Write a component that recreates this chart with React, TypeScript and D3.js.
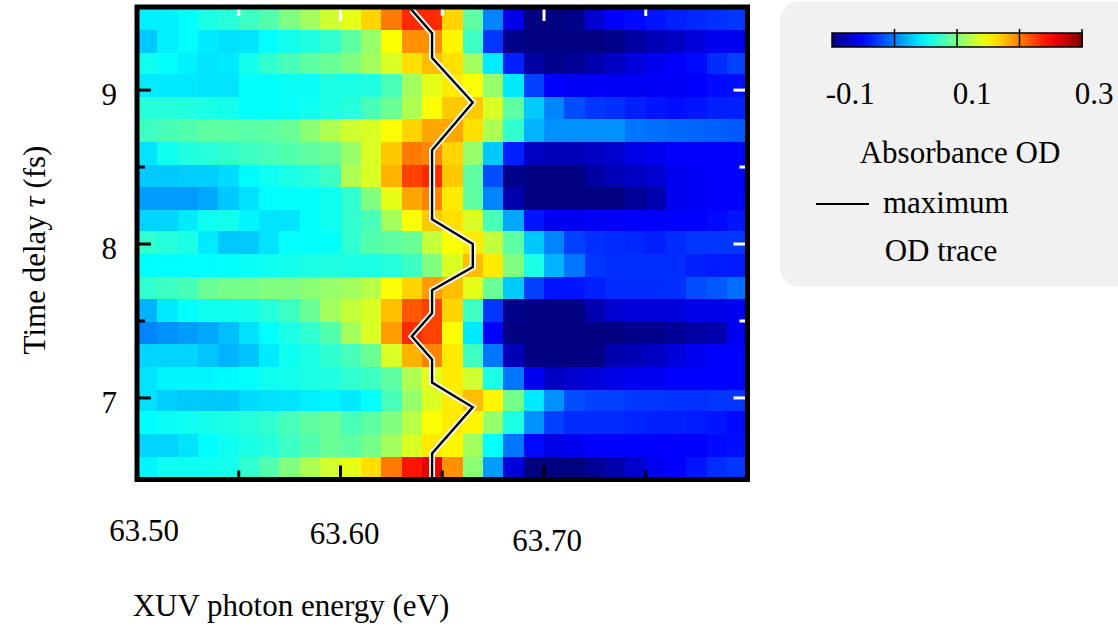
import React, { useRef, useEffect } from "react";
import * as d3 from "d3";

// photon energy bin centres (eV)
const energies = [
  63.505, 63.515, 63.525, 63.535, 63.545, 63.555, 63.565, 63.575, 63.585, 63.595,
  63.605, 63.615, 63.625, 63.635, 63.645, 63.655, 63.665, 63.675, 63.685, 63.695,
  63.705, 63.715, 63.725, 63.735, 63.745, 63.755, 63.765, 63.775, 63.785, 63.795,
];

// time delay row centres (fs), top to bottom
const delays = [
  9.47, 9.32, 9.17, 9.03, 8.88, 8.74, 8.59, 8.44, 8.3, 8.15, 8.01, 7.86, 7.71, 7.57,
  7.42, 7.28, 7.13, 6.98, 6.84, 6.69, 6.54,
];

// absorbance OD, one row per delay
const odRows = [
  [0.012, 0.012, 0.02, 0.03, 0.035, 0.045, 0.055, 0.075, 0.09, 0.11, 0.12, 0.15, 0.19, 0.225, 0.225, 0.15, 0.06, -0.035, -0.105, -0.15, -0.15, -0.145, -0.115, -0.094, -0.09, -0.085, -0.08, -0.077, -0.073, -0.07],
  [-0.005, 0.012, 0.02, 0.01, 0.005, 0.007, 0.02, 0.027, 0.033, 0.04, 0.06, 0.085, 0.13, 0.18, 0.18, 0.135, 0.045, -0.07, -0.145, -0.15, -0.15, -0.15, -0.15, -0.145, -0.135, -0.125, -0.12, -0.11, -0.1, -0.1],
  [0.025, 0.02, 0.013, 0.007, 0.01, 0.027, 0.04, 0.05, 0.06, 0.065, 0.075, 0.09, 0.115, 0.145, 0.16, 0.145, 0.09, 0.01, -0.08, -0.135, -0.145, -0.14, -0.13, -0.12, -0.11, -0.1, -0.095, -0.09, -0.075, -0.065],
  [0.01, 0.01, 0.009, 0.007, 0.007, 0.02, 0.02, 0.022, 0.022, 0.03, 0.03, 0.033, 0.05, 0.09, 0.12, 0.14, 0.13, 0.085, 0.01, -0.065, -0.094, -0.098, -0.098, -0.098, -0.098, -0.096, -0.096, -0.094, -0.09, -0.088],
  [0.035, 0.035, 0.033, 0.03, 0.027, 0.02, 0.02, 0.022, 0.025, 0.03, 0.035, 0.05, 0.065, 0.095, 0.13, 0.155, 0.155, 0.115, 0.06, -0.005, -0.035, -0.06, -0.07, -0.073, -0.08, -0.085, -0.088, -0.085, -0.08, -0.08],
  [0.045, 0.05, 0.055, 0.06, 0.06, 0.058, 0.06, 0.065, 0.08, 0.095, 0.11, 0.115, 0.13, 0.15, 0.17, 0.17, 0.145, 0.095, 0.04, -0.015, -0.03, -0.03, -0.03, -0.03, -0.042, -0.045, -0.048, -0.05, -0.052, -0.055],
  [0.007, 0.025, 0.033, 0.035, 0.04, 0.045, 0.05, 0.055, 0.06, 0.065, 0.085, 0.115, 0.155, 0.19, 0.185, 0.15, 0.085, -0.005, -0.08, -0.12, -0.125, -0.125, -0.12, -0.115, -0.105, -0.1, -0.095, -0.095, -0.095, -0.094],
  [-0.005, -0.005, -0.003, -0.003, 0.003, 0.017, 0.025, 0.03, 0.035, 0.045, 0.095, 0.115, 0.165, 0.215, 0.225, 0.155, 0.06, -0.06, -0.145, -0.15, -0.15, -0.15, -0.135, -0.125, -0.12, -0.115, -0.1, -0.098, -0.095, -0.095],
  [-0.025, -0.025, -0.025, -0.02, -0.005, 0.005, 0.018, 0.02, 0.02, 0.025, 0.04, 0.075, 0.12, 0.17, 0.185, 0.14, 0.06, -0.035, -0.13, -0.15, -0.15, -0.15, -0.15, -0.15, -0.14, -0.13, -0.1, -0.098, -0.095, -0.094],
  [0, 0, 0.01, 0.025, 0.027, 0.015, 0.007, 0.007, 0.02, 0.025, 0.04, 0.05, 0.09, 0.13, 0.155, 0.145, 0.115, 0.05, -0.02, -0.085, -0.1, -0.1, -0.098, -0.096, -0.094, -0.094, -0.094, -0.094, -0.09, -0.085],
  [0.04, 0.035, 0.03, 0.01, -0.005, -0.005, 0.007, 0.02, 0.02, 0.02, 0.04, 0.055, 0.06, 0.065, 0.105, 0.13, 0.14, 0.105, 0.06, -0.005, -0.035, -0.065, -0.073, -0.075, -0.077, -0.08, -0.075, -0.07, -0.07, -0.07],
  [0.018, 0.018, 0.018, 0.018, 0.02, 0.022, 0.025, 0.027, 0.03, 0.033, 0.03, 0.03, 0.035, 0.045, 0.075, 0.115, 0.16, 0.14, 0.075, 0.03, -0.015, -0.042, -0.07, -0.073, -0.073, -0.073, -0.075, -0.08, -0.082, -0.082],
  [0.04, 0.045, 0.05, 0.065, 0.07, 0.07, 0.075, 0.075, 0.08, 0.085, 0.09, 0.1, 0.13, 0.15, 0.175, 0.16, 0.12, 0.065, -0.005, -0.065, -0.085, -0.085, -0.08, -0.075, -0.075, -0.075, -0.073, -0.06, -0.055, -0.045],
  [-0.015, 0.01, 0.02, 0.025, 0.025, 0.027, 0.035, 0.045, 0.065, 0.09, 0.105, 0.115, 0.16, 0.205, 0.215, 0.15, 0.045, -0.07, -0.145, -0.15, -0.15, -0.15, -0.13, -0.115, -0.11, -0.11, -0.11, -0.105, -0.105, -0.1],
  [-0.035, -0.03, -0.025, -0.02, -0.01, 0.005, 0.02, 0.03, 0.04, 0.055, 0.09, 0.115, 0.175, 0.225, 0.215, 0.13, 0.01, -0.094, -0.15, -0.15, -0.15, -0.15, -0.15, -0.15, -0.145, -0.145, -0.14, -0.135, -0.13, -0.1],
  [0, 0, 0, -0.007, -0.015, -0.007, 0.01, 0.025, 0.03, 0.04, 0.05, 0.065, 0.115, 0.165, 0.185, 0.14, 0.045, -0.042, -0.125, -0.15, -0.15, -0.15, -0.15, -0.13, -0.125, -0.12, -0.11, -0.1, -0.094, -0.094],
  [0.007, 0.015, 0.015, 0.015, 0.017, 0.02, 0.025, 0.027, 0.03, 0.033, 0.04, 0.045, 0.06, 0.095, 0.12, 0.14, 0.11, 0.03, -0.042, -0.1, -0.12, -0.115, -0.11, -0.105, -0.1, -0.098, -0.094, -0.094, -0.094, -0.094],
  [0.005, -0.003, -0.005, -0.005, -0.005, 0.003, 0.005, 0.007, 0.012, 0.015, 0.01, 0.02, 0.05, 0.085, 0.115, 0.14, 0.16, 0.135, 0.07, 0.01, -0.03, -0.06, -0.065, -0.065, -0.07, -0.07, -0.072, -0.072, -0.07, -0.07],
  [0.018, 0.022, 0.025, 0.028, 0.03, 0.035, 0.04, 0.05, 0.06, 0.065, 0.05, 0.06, 0.075, 0.1, 0.13, 0.14, 0.135, 0.085, 0.03, -0.03, -0.065, -0.075, -0.075, -0.075, -0.078, -0.08, -0.08, -0.082, -0.085, -0.09],
  [0, 0, 0.007, 0.018, 0.025, 0.03, 0.035, 0.045, 0.055, 0.065, 0.06, 0.07, 0.09, 0.115, 0.14, 0.135, 0.09, 0.02, -0.042, -0.09, -0.105, -0.1, -0.094, -0.094, -0.094, -0.094, -0.094, -0.094, -0.09, -0.088],
  [0.015, 0.025, 0.025, 0.025, 0.027, 0.04, 0.055, 0.075, 0.095, 0.11, 0.12, 0.145, 0.19, 0.235, 0.255, 0.18, 0.08, -0.025, -0.11, -0.15, -0.15, -0.15, -0.14, -0.13, -0.115, -0.1, -0.094, -0.085, -0.075, -0.07],
];

// maximum OD trace
const traceDelay = [9.52, 9.37, 9.21, 8.92, 8.61, 8.16, 8.0, 7.85, 7.7, 7.55, 7.4, 7.25, 7.1, 6.94, 6.64, 6.47];
const traceEnergy = [63.635, 63.645, 63.645, 63.665, 63.645, 63.645, 63.665, 63.665, 63.645, 63.645, 63.635, 63.645, 63.645, 63.665, 63.645, 63.645];

const xMajor = [63.5, 63.6, 63.7];
const xMinor = [63.55, 63.65, 63.75];
const yMajor = [7, 8, 9];
const yMinor = [7.5, 8.5];
const cbarTicks = [-0.1, 0.1, 0.3];

const FONT = "'Liberation Serif', 'Times New Roman', serif";

const App = () => {
  const ref = useRef<SVGSVGElement>(null);

  useEffect(() => {
    const svg = d3.select(ref.current);
    svg.selectAll("*").remove();

    const left = 137, right = 747.5, top = 7, bottom = 479.5;
    const x = d3.scaleLinear().domain([63.5, 63.8]).range([left, right]);
    const y = d3.scaleLinear().domain([6.47, 9.54]).range([bottom, top]);

    const toT = d3.scaleLinear().domain([-0.15, 0.3]).range([0, 1]).clamp(true);
    const jet = d3
      .scaleLinear<string>()
      .domain([0, 0.125, 0.375, 0.625, 0.875, 1])
      .range(["#000080", "#0000ff", "#00ffff", "#ffff00", "#ff0000", "#800000"]);
    const color = (v: number) => jet(toT(v));

    const binW = 0.005;
    const binH = 0.073;

    svg
      .append("defs")
      .append("clipPath")
      .attr("id", "plot-clip")
      .append("rect")
      .attr("x", left)
      .attr("y", top)
      .attr("width", right - left)
      .attr("height", bottom - top);

    const cells = svg.append("g").attr("clip-path", "url(#plot-clip)");
    const flat: { e: number; d: number; v: number }[] = [];
    odRows.forEach((row, i) =>
      row.forEach((v, j) => flat.push({ e: energies[j], d: delays[i], v }))
    );
    cells
      .selectAll("rect")
      .data(flat)
      .enter()
      .append("rect")
      .attr("x", (c) => x(c.e - binW))
      .attr("y", (c) => y(c.d + binH))
      .attr("width", (c) => x(c.e + binW) - x(c.e - binW) + 0.6)
      .attr("height", (c) => y(c.d - binH) - y(c.d + binH) + 0.6)
      .attr("fill", (c) => color(c.v))
      .attr("shape-rendering", "crispEdges");

    // max OD trace, white halo under black line
    const line = d3
      .line<number>()
      .x((i) => x(traceEnergy[i]))
      .y((i) => y(traceDelay[i]));
    const idx = traceDelay.map((_, i) => i);
    cells
      .append("path")
      .attr("d", line(idx))
      .attr("fill", "none")
      .attr("stroke", "#fff")
      .attr("stroke-width", 6);
    cells
      .append("path")
      .attr("d", line(idx))
      .attr("fill", "none")
      .attr("stroke", "#000")
      .attr("stroke-width", 2.4);

    // ticks
    const ticks = svg.append("g").attr("stroke-width", 3);
    const allX = [...xMajor.slice(1).map((v) => [v, 12]), ...xMinor.map((v) => [v, 7])];
    allX.forEach(([v, len]) => {
      ticks.append("line").attr("x1", x(v)).attr("x2", x(v))
        .attr("y1", bottom).attr("y2", bottom - 2 - len).attr("stroke", "#000");
      ticks.append("line").attr("x1", x(v)).attr("x2", x(v))
        .attr("y1", top).attr("y2", top + 2 + len).attr("stroke", "#fff");
    });
    const allY = [...yMajor.map((v) => [v, 12]), ...yMinor.map((v) => [v, 6])];
    allY.forEach(([v, len]) => {
      ticks.append("line").attr("y1", y(v)).attr("y2", y(v))
        .attr("x1", left).attr("x2", left + 2 + len).attr("stroke", "#000");
      ticks.append("line").attr("y1", y(v)).attr("y2", y(v))
        .attr("x1", right).attr("x2", right - 2 - len).attr("stroke", "#fff");
    });

    // frame
    svg
      .append("rect")
      .attr("x", left)
      .attr("y", top)
      .attr("width", right - left)
      .attr("height", bottom - top)
      .attr("fill", "none")
      .attr("stroke", "#000")
      .attr("stroke-width", 5);

    const txt = svg.append("g").attr("font-family", FONT).attr("font-size", 31).attr("fill", "#000");

    // x tick labels (slightly staggered as in the figure)
    const xShift = [[7, 541], [4, 544], [3, 551]];
    xMajor.forEach((v, i) => {
      txt.append("text")
        .attr("x", x(v) + xShift[i][0])
        .attr("y", xShift[i][1])
        .attr("text-anchor", "middle")
        .text(d3.format(".2f")(v));
    });
    yMajor.forEach((v) => {
      txt.append("text")
        .attr("x", 117)
        .attr("y", y(v) + 15)
        .attr("text-anchor", "end")
        .text(String(v));
    });

    txt.append("text")
      .attr("x", 291)
      .attr("y", 616)
      .attr("text-anchor", "middle")
      .text("XUV photon energy (eV)");

    const yt = txt.append("text")
      .attr("transform", "translate(45,250) rotate(-90)")
      .attr("text-anchor", "middle");
    yt.append("tspan").text("Time delay ");
    yt.append("tspan").attr("font-style", "italic").text("τ");
    yt.append("tspan").text(" (fs)");

    // legend box
    const lg = svg.append("g");
    lg.append("rect")
      .attr("x", 780)
      .attr("y", 1)
      .attr("width", 380)
      .attr("height", 286)
      .attr("rx", 20)
      .attr("fill", "#f1f1f1");

    const cbL = 832, cbR = 1082, cbT = 33, cbB = 47;
    const grad = svg.select("defs").append("linearGradient").attr("id", "jet-grad");
    d3.range(0, 1.0001, 0.05).forEach((t) => {
      grad.append("stop").attr("offset", `${t * 100}%`).attr("stop-color", jet(t));
    });
    lg.append("rect")
      .attr("x", cbL).attr("y", cbT)
      .attr("width", cbR - cbL).attr("height", cbB - cbT)
      .attr("fill", "url(#jet-grad)")
      .attr("stroke", "#000").attr("stroke-width", 1.5);
    const cbx = d3.scaleLinear().domain([0, 1]).range([cbL, cbR]);
    [0.25, 0.5, 0.75, 1].forEach((t) => {
      lg.append("line")
        .attr("x1", cbx(t)).attr("x2", cbx(t))
        .attr("y1", cbT - 4).attr("y2", cbB)
        .attr("stroke", "#000").attr("stroke-width", 1.5);
    });
    const cbLabel = d3.scaleLinear().domain([-0.13, 0.28]).range([cbL, cbR]);
    const lt = lg.append("g").attr("font-family", FONT).attr("font-size", 31).attr("fill", "#000");
    cbarTicks.forEach((v) => {
      lt.append("text")
        .attr("x", cbLabel(v))
        .attr("y", 104)
        .attr("text-anchor", "middle")
        .text(v < 0 ? `-${Math.abs(v)}` : String(v));
    });
    lt.append("text").attr("x", 960).attr("y", 163).attr("text-anchor", "middle").text("Absorbance OD");
    lg.append("line")
      .attr("x1", 816).attr("x2", 869).attr("y1", 204).attr("y2", 204)
      .attr("stroke", "#000").attr("stroke-width", 2);
    lt.append("text").attr("x", 883).attr("y", 213).text("maximum");
    lt.append("text").attr("x", 941).attr("y", 261).attr("text-anchor", "middle").text("OD trace");
  }, []);

  return (
    <div style={{ position: "absolute", left: 0, top: 0 }}>
      <svg ref={ref} width={1118} height={628} style={{ display: "block", background: "#fff" }} />
    </div>
  );
};

export default App;
